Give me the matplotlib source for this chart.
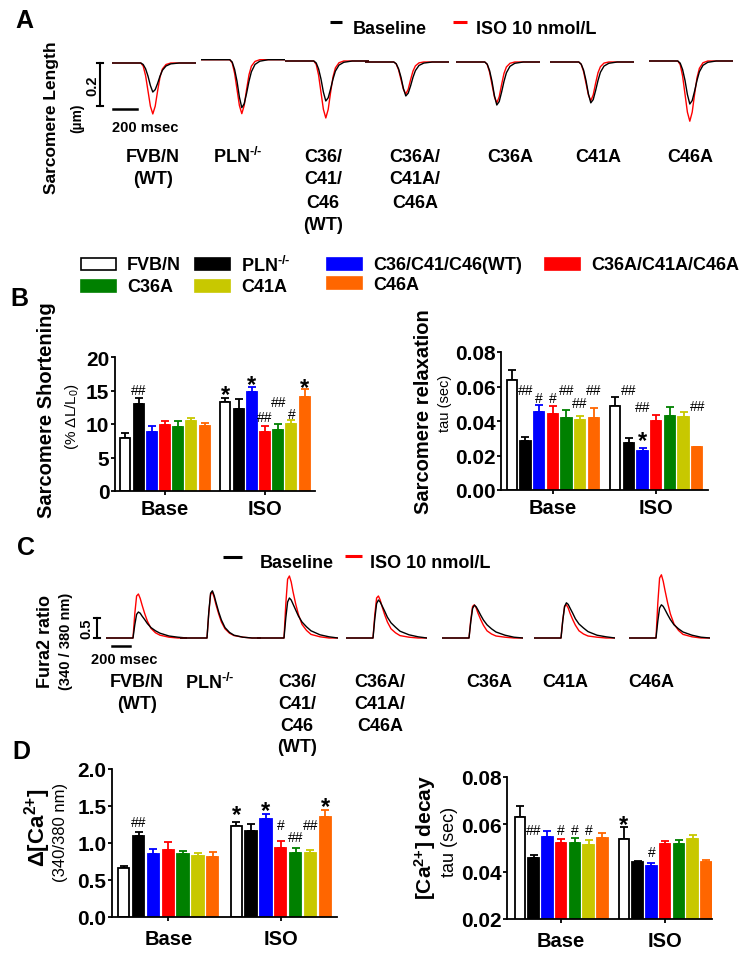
import matplotlib
matplotlib.use("Agg")
import matplotlib.pyplot as plt
from matplotlib.lines import Line2D
from matplotlib.patches import Rectangle

plt.rcParams["font.family"] = ["Liberation Sans", "DejaVu Sans"]
plt.rcParams["font.weight"] = "bold"
plt.rcParams["mathtext.default"] = "regular"

# ---------------- data ----------------
strains = ["FVB/N", "PLN$^{\u2010/\u2010}$", "C36/C41/C46(WT)", "C36A/C41A/C46A",
           "C36A", "C41A", "C46A"]
strain_colors = ["#ffffff", "#000000", "#0000ff", "#ff0000",
                 "#008000", "#c8c800", "#ff6600"]
trace_labels = [["FVB/N", "(WT)"], ["PLN$^{\u2010/\u2010}$"], ["C36/", "C41/", "C46", "(WT)"],
                ["C36A/", "C41A/", "C46A"], ["C36A"], ["C41A"], ["C46A"]]
conditions = ["Base", "ISO"]
legend_labels = ["Baseline", "ISO 10 nmol/L"]

# A: sarcomere length change (um) vs time (ms)
a_time = [0, 120, 240, 260, 280, 300, 320, 340, 360, 380, 400, 420, 450, 490, 560, 700]
a_base = [
    [0, 0, 0, -.007, -.027, -.061, -.105, -.135, -.124, -.095, -.061, -.034, -.014, -.004, 0, 0],
    [0, 0, 0, -.011, -.045, -.100, -.174, -.223, -.205, -.156, -.100, -.056, -.022, -.007, 0, 0],
    [0, 0, 0, -.009, -.037, -.084, -.145, -.186, -.171, -.130, -.084, -.047, -.019, -.006, 0, 0],
    [0, 0, 0, -.008, -.032, -.071, -.123, -.158, -.145, -.111, -.071, -.040, -.016, -.005, 0, 0],
    [0, 0, 0, -.010, -.040, -.090, -.156, -.200, -.184, -.140, -.090, -.050, -.020, -.006, 0, 0],
    [0, 0, 0, -.010, -.038, -.086, -.148, -.190, -.175, -.133, -.086, -.048, -.019, -.006, 0, 0],
    [0, 0, 0, -.010, -.040, -.090, -.156, -.200, -.184, -.140, -.090, -.050, -.020, -.006, 0, 0],
]
a_iso = [
    [0, 0, 0, -.014, -.059, -.130, -.201, -.237, -.201, -.130, -.066, -.028, -.007, 0, 0, 0],
    [0, 0, 0, -.015, -.063, -.138, -.213, -.251, -.213, -.138, -.070, -.030, -.008, 0, 0, 0],
    [0, 0, 0, -.016, -.066, -.146, -.225, -.265, -.225, -.146, -.074, -.032, -.008, 0, 0, 0],
    [0, 0, 0, -.009, -.037, -.082, -.127, -.149, -.127, -.082, -.042, -.018, -.004, 0, 0, 0],
    [0, 0, 0, -.011, -.048, -.105, -.162, -.190, -.162, -.105, -.053, -.023, -.006, 0, 0, 0],
    [0, 0, 0, -.011, -.045, -.099, -.153, -.180, -.153, -.099, -.050, -.022, -.005, 0, 0, 0],
    [0, 0, 0, -.017, -.070, -.154, -.238, -.280, -.238, -.154, -.078, -.034, -.008, 0, 0, 0],
]

# B: sarcomere shortening (% dL/L0) and relaxation tau (sec)
short_base = [7.85, 12.95, 8.85, 9.85, 9.5, 10.4, 9.75]
short_base_err = [0.8, 0.9, 0.9, 0.6, 0.9, 0.55, 0.35]
short_iso = [13.25, 12.25, 14.75, 8.75, 9.15, 10.0, 14.1]
short_iso_err = [0.7, 1.5, 0.7, 1.0, 0.9, 0.55, 1.05]
short_marks = [(0, 1, 15.25, "##"), (1, 0, 15.5, "*"), (1, 2, 16.95, "*"),
               (1, 3, 11.2, "##"), (1, 4, 13.45, "##"), (1, 5, 11.75, "#"),
               (1, 6, 16.55, "*")]

relax_base = [0.0639, 0.0282, 0.0450, 0.0439, 0.0417, 0.0406, 0.0419]
relax_base_err = [0.0054, 0.0027, 0.0043, 0.0047, 0.0047, 0.0025, 0.0058]
relax_iso = [0.0489, 0.0272, 0.0225, 0.0402, 0.0431, 0.0425, 0.0249]
relax_iso_err = [0.0050, 0.0027, 0.0016, 0.0033, 0.0052, 0.0025, 0.0002]
relax_marks = [(0, 1, 0.059, "##"), (0, 2, 0.0544, "#"), (0, 3, 0.0544, "#"),
               (0, 4, 0.0586, "##"), (0, 5, 0.0513, "##"), (0, 6, 0.0586, "##"),
               (1, 1, 0.0586, "##"), (1, 2, 0.049, "##"), (1, 2, 0.0328, "*"),
               (1, 6, 0.0495, "##")]

# C: Fura2 ratio change vs time (ms)
c_time = [0, 150, 300, 320, 340, 360, 380, 400, 430, 460, 500, 550, 600, 700, 800, 900]
c_base = [
    [0, 0, 0, .33, .59, .65, .62, .55, .46, .36, .26, .18, .12, .05, .02, 0],
    [0, 0, 0, .65, 1.12, 1.18, 1.06, .89, .65, .45, .26, .14, .07, .02, 0, 0],
    [0, 0, 0, .50, .90, 1.00, .95, .85, .70, .55, .40, .28, .18, .08, .03, 0],
    [0, 0, 0, .48, .86, .95, .90, .81, .67, .52, .38, .27, .17, .08, .03, 0],
    [0, 0, 0, .41, .74, .82, .78, .70, .57, .45, .33, .23, .15, .07, .02, 0],
    [0, 0, 0, .44, .79, .88, .84, .75, .62, .48, .35, .25, .16, .07, .03, 0],
    [0, 0, 0, .42, .75, .83, .79, .71, .58, .46, .33, .23, .15, .07, .02, 0],
]
c_iso = [
    [0, 0, 0, .61, 1.05, 1.10, .99, .83, .61, .42, .24, .13, .07, .02, 0, 0],
    [0, 0, 0, .63, 1.09, 1.15, 1.01, .83, .60, .40, .23, .12, .06, .02, 0, 0],
    [0, 0, 0, .85, 1.47, 1.55, 1.40, 1.16, .85, .59, .34, .19, .09, .03, 0, 0],
    [0, 0, 0, .58, 1.00, 1.05, .95, .79, .58, .40, .23, .13, .06, .02, 0, 0],
    [0, 0, 0, .46, .79, .83, .75, .62, .46, .32, .18, .10, .05, .02, 0, 0],
    [0, 0, 0, .46, .79, .83, .75, .62, .46, .32, .18, .10, .05, .02, 0, 0],
    [0, 0, 0, .87, 1.50, 1.58, 1.42, 1.19, .87, .60, .35, .19, .09, .03, 0, 0],
]

# D: Ca2+ transient amplitude and decay tau (sec)
ca_base = [0.66, 1.10, 0.854, 0.912, 0.845, 0.822, 0.809]
ca_base_err = [0.035, 0.055, 0.067, 0.10, 0.045, 0.045, 0.067]
ca_iso = [1.227, 1.164, 1.326, 0.93, 0.867, 0.867, 1.357]
ca_iso_err = [0.063, 0.09, 0.063, 0.10, 0.072, 0.045, 0.086]
ca_marks = [(0, 1, 1.30, "##"), (1, 0, 1.48, "*"), (1, 2, 1.54, "*"),
            (1, 3, 1.26, "#"), (1, 4, 1.10, "##"), (1, 5, 1.26, "##"),
            (1, 6, 1.60, "*")]

decay_base = [0.0631, 0.0457, 0.0546, 0.0522, 0.0522, 0.0513, 0.0542]
decay_base_err = [0.0046, 0.0014, 0.0024, 0.0014, 0.0020, 0.0022, 0.0021]
decay_iso = [0.0539, 0.0440, 0.0423, 0.0515, 0.0515, 0.0536, 0.0440]
decay_iso_err = [0.0048, 0.0006, 0.0014, 0.0015, 0.0017, 0.0021, 0.0010]
decay_marks = [(0, 1, 0.0584, "##"), (0, 3, 0.0584, "#"), (0, 4, 0.0584, "#"),
               (0, 5, 0.0584, "#"), (1, 0, 0.0631, "*"), (1, 2, 0.0489, "#")]

# ---------------- layout helpers (pixel coords, origin top-left) ----------------
W, H = 751, 954
fig = plt.figure(figsize=(W / 100, H / 100), dpi=100)


def fx(x):
    return x / W


def fy(y):
    return 1 - y / H


def px_rect(l, t, r, b):
    return [l / W, 1 - b / H, (r - l) / W, (b - t) / H]


def ftext(x, y, s, **kw):
    kw.setdefault("ha", "center")
    kw.setdefault("va", "center")
    fig.text(fx(x), fy(y), s, **kw)


def fline(x0, x1, y, color, lw=2.2):
    fig.add_artist(Line2D([fx(x0), fx(x1)], [fy(y), fy(y)], transform=fig.transFigure,
                          color=color, lw=lw, solid_capstyle="butt"))


PITCH = 0.132
BW = 0.1


def bar_panel(box, base, base_err, iso, iso_err, ylim, yticks, fmt, marks,
              xlim=(-0.5, 1.5), xpad=3):
    ax = fig.add_axes(px_rect(*box))
    for g, (vals, errs) in enumerate([(base, base_err), (iso, iso_err)]):
        for i in range(7):
            x = g + (i - 3) * PITCH
            edge = "black" if i == 0 else strain_colors[i]
            ax.bar(x, vals[i], width=BW, color=strain_colors[i], edgecolor=edge,
                   linewidth=1.3, zorder=2)
            ax.errorbar(x, vals[i], yerr=[[0], [errs[i]]], fmt="none", ecolor=edge,
                        elinewidth=1.3, capsize=2.6, capthick=1.3, zorder=1)
    for g, i, y, s in marks:
        x = g + (i - 3) * PITCH
        if s == "*":
            ax.annotate(s, (x, y), xytext=(0, -5.4), textcoords="offset points",
                        ha="center", va="center", fontsize=17, fontweight="bold")
        else:
            ax.annotate(s, (x, y), xytext=(0, -1), textcoords="offset points",
                        ha="center", va="center", fontsize=10, fontweight="normal")
    ax.set_xlim(*xlim)
    ax.set_ylim(*ylim)
    ax.set_yticks(yticks)
    ax.set_yticklabels([fmt.format(v) for v in yticks])
    ax.set_xticks([0, 1])
    ax.set_xticklabels(conditions)
    for sp in ["top", "right"]:
        ax.spines[sp].set_visible(False)
    for sp in ["left", "bottom"]:
        ax.spines[sp].set_linewidth(1.3)
    ax.tick_params(axis="y", width=1.3, length=3, pad=1, labelsize=15)
    ax.tick_params(axis="x", width=1.3, length=3, pad=xpad, labelsize=14.5)
    return ax


def trace_row(lefts, bases, t, black, red, ms_px, unit_px, ylo, yhi, tmax):
    axes = []
    for k in range(7):
        l = lefts[k]
        r = l + tmax * ms_px
        top = bases[k] - yhi * unit_px
        bot = bases[k] - ylo * unit_px
        ax = fig.add_axes(px_rect(l, top, r, bot))
        ax.plot(t, red[k], color="#ff0000", lw=1.0)
        ax.plot(t, black[k], color="black", lw=1.0)
        ax.set_xlim(0, tmax)
        ax.set_ylim(ylo, yhi)
        ax.axis("off")
        axes.append(ax)
    return axes


def group_labels(centers, rows):
    for k, lines in enumerate(trace_labels):
        for j, s in enumerate(lines):
            ftext(centers[k], rows[j], s, fontsize=13)


# ---------------- panel A ----------------
ftext(24, 21, "A", fontsize=18)
fline(330, 342, 23, "black")
ftext(353, 29, legend_labels[0], fontsize=13, ha="left")
fline(453, 467, 23, "#ff0000")
ftext(476, 29, legend_labels[1], fontsize=13, ha="left")

a_axes = trace_row([112, 201, 285, 365, 456, 550, 649], [64, 60.7, 62, 63, 63, 63, 62],
                   a_time, a_base, a_iso, 0.12, 215, -0.32, 0.03, 700)
ax0 = a_axes[0]
# scale bars: 0.2 um and 200 msec
ax0.plot([-100, -100], [0, -0.2], color="black", lw=1.5, clip_on=False)
ax0.plot([-125, -75], [0, 0], color="black", lw=1.5, clip_on=False)
ax0.plot([-125, -75], [-0.2, -0.2], color="black", lw=1.5, clip_on=False)
ax0.plot([5, 205], [-0.214, -0.214], color="black", lw=1.8, clip_on=False)
ax0.text(-167, -0.1, "0.2", rotation=90, ha="center", va="center", fontsize=10.5)
ax0.text(275, -0.298, "200 msec", ha="center", va="center", fontsize=10.5)
ftext(52, 118, "Sarcomere Length", rotation=90, fontsize=12.5)
ftext(77, 118, "(µm)", rotation=90, fontsize=10)
group_labels([153, 238, 323, 415, 510, 598, 690], [157, 180, 203, 225])

# ---------------- panel B ----------------
ftext(19, 299, "B", fontsize=18)
legend_pos = [(81, 265), (195, 265), (327, 265), (545, 265), (81, 287), (195, 287), (327, 284)]
for k, (bx, by) in enumerate(legend_pos):
    fig.add_artist(Rectangle((fx(bx), fy(by + 6)), 35 / W, 12 / H, transform=fig.transFigure,
                             facecolor=strain_colors[k],
                             edgecolor="black" if k == 0 else strain_colors[k], lw=1.2))
    ftext(bx + 46, by + 1, strains[k], fontsize=13, ha="left")

bar_panel((115, 358, 315, 492), short_base, short_base_err, short_iso, short_iso_err,
          (0, 20), [0, 5, 10, 15, 20], "{:.0f}", short_marks, xpad=3)
ftext(47, 410, "Sarcomere Shortening", rotation=90, fontsize=14.5)
ftext(72, 417, "(% ΔL/L$_0$)", rotation=90, fontsize=11, fontweight="normal")

bar_panel((501, 353, 708, 491), relax_base, relax_base_err, relax_iso, relax_iso_err,
          (0, 0.08), [0, 0.02, 0.04, 0.06, 0.08], "{:.2f}", relax_marks, xpad=3)
ftext(423, 412, "Sarcomere relaxation", rotation=90, fontsize=14.5)
ftext(445, 403, "tau (sec)", rotation=90, fontsize=10.5, fontweight="normal")

# ---------------- panel C ----------------
ftext(26, 548, "C", fontsize=18)
fline(223, 242, 558, "black")
ftext(260, 563, legend_labels[0], fontsize=13, ha="left")
fline(345, 362, 557, "#ff0000")
ftext(370, 563, legend_labels[1], fontsize=13, ha="left")

c_axes = trace_row([106, 180, 257, 346, 442, 534, 629], [639] * 7,
                   c_time, c_base, c_iso, 0.09, 40, -0.15, 1.7, 900)
cx0 = c_axes[0]
cx0.plot([-100, -100], [0, 0.5], color="black", lw=1.5, clip_on=False)
cx0.plot([-133, -67], [0, 0], color="black", lw=1.5, clip_on=False)
cx0.plot([-133, -67], [0.5, 0.5], color="black", lw=1.5, clip_on=False)
cx0.plot([67, 267], [-0.2, -0.2], color="black", lw=1.8, clip_on=False)
cx0.text(-215, 0.25, "0.5", rotation=90, ha="center", va="center", fontsize=10.5)
cx0.text(205, -0.53, "200 msec", ha="center", va="center", fontsize=10.5)
ftext(45, 641, "Fura2 ratio", rotation=90, fontsize=13)
ftext(66, 641, "(340 / 380 nm)", rotation=90, fontsize=10.5)
group_labels([137, 210, 297, 380, 489, 565, 651], [683, 705, 727, 748])

# ---------------- panel D ----------------
ftext(21, 752, "D", fontsize=18)
bar_panel((112, 770, 337, 918), ca_base, ca_base_err, ca_iso, ca_iso_err,
          (0, 2.0), [0, 0.5, 1.0, 1.5, 2.0], "{:.1f}", ca_marks, xpad=6)
ftext(38, 828, "Δ[Ca$^{2{+}}$]", rotation=90, fontsize=16)
ftext(61, 832, "(340/380 nm)", rotation=90, fontsize=12, fontweight="normal")

bar_panel((507, 778, 712, 920), decay_base, decay_base_err, decay_iso, decay_iso_err,
          (0.02, 0.08), [0.02, 0.04, 0.06, 0.08], "{:.2f}", decay_marks,
          xlim=(-0.52, 1.45), xpad=6)
ftext(425, 838, "[Ca$^{2{+}}$] decay", rotation=90, fontsize=15)
ftext(450, 842, "tau (sec)", rotation=90, fontsize=13, fontweight="normal")

fig.savefig("out.png", dpi=100)
